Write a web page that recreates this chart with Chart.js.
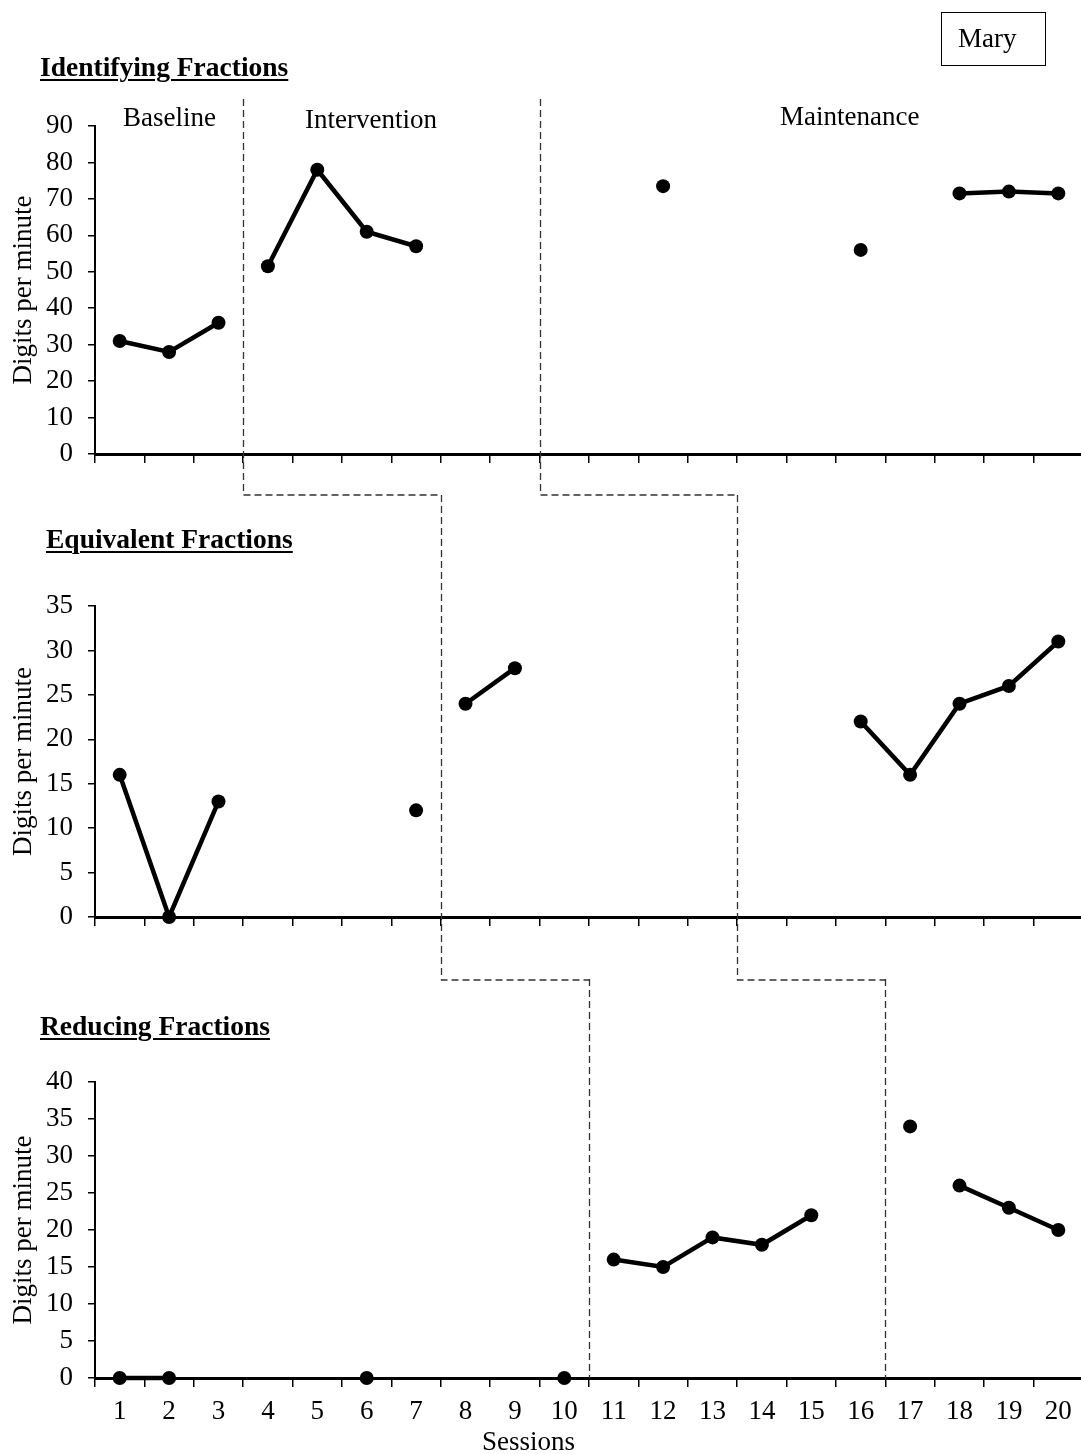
<!DOCTYPE html>
<html>
<head>
<meta charset="utf-8">
<script src="https://cdn.jsdelivr.net/npm/chart.js@4.4.1/dist/chart.umd.min.js"></script>
<style>
  body { margin: 0; background: #fff; }
  #page { position: relative; width: 1081px; height: 1454px; overflow: hidden; background: #fff;
          font-family: "Liberation Serif", "Times New Roman", serif; color: #000; }
  #page canvas { position: absolute; left: 0; }
  .title { position: absolute; font-size: 27.5px; line-height: 1; font-weight: bold; white-space: nowrap;
           text-decoration: underline; text-decoration-thickness: 2px; text-underline-offset: 3px; }
  .lbl { position: absolute; font-size: 27px; line-height: 1; white-space: nowrap; }
  #mary { position: absolute; left: 941px; top: 12px; width: 105px; height: 54px; box-sizing: border-box;
          border: 1.5px solid #000; }
</style>
</head>
<body>
<div id="page">
  <canvas id="identChart" width="1090" height="500" style="top:0px"></canvas>
  <canvas id="equivChart" width="1090" height="490" style="top:495px"></canvas>
  <canvas id="reduceChart" width="1090" height="475" style="top:979px"></canvas>

  <div class="title" style="left:40px; top:53px">Identifying Fractions</div>
  <div class="title" style="left:46px; top:525px">Equivalent Fractions</div>
  <div class="title" style="left:40px; top:1012px">Reducing Fractions</div>
  <div class="lbl" style="left:123px; top:104px">Baseline</div>
  <div class="lbl" style="left:305px; top:106px">Intervention</div>
  <div class="lbl" style="left:780px; top:103px">Maintenance</div>
  <div id="mary"></div>
  <div class="lbl" style="left:958px; top:25px">Mary</div>
  <div class="lbl" style="left:482px; top:1428px">Sessions</div>
</div>
<script>
const sessions = ["1", "2", "3", "4", "5", "6", "7", "8", "9", "10",
                  "11", "12", "13", "14", "15", "16", "17", "18", "19", "20"];

// digits per minute, one entry per session (null = not probed)
const identifyingValues = [31, 28, 36, 51.5, 78, 61, 57, null, null, null,
                           null, 73.5, null, null, null, 56, null, 71.5, 72, 71.5];
const equivalentValues = [16, 0, 13, null, null, null, 12, 24, 28, null,
                          null, null, null, null, null, 22, 16, 24, 26, 31];
const reducingValues = [0, 0, null, null, null, 0, null, null, null, 0,
                        16, 15, 19, 18, 22, null, 34, 26, 23, 20];

// phase changes fall between sessions
const identifyingPhaseChanges = [3.5, 9.5];
const equivalentPhaseChanges = [7.5, 13.5];
const reducingPhaseChanges = [10.5, 16.5];

// sessions whose point is not joined to the next one
const identifyingUnjoined = [];
const equivalentUnjoined = [];
const reducingUnjoined = [17];

Chart.defaults.font.family = "'Liberation Serif', 'Times New Roman', serif";
Chart.defaults.font.size = 27;
Chart.defaults.color = "#000";

const phaseLines = {
  id: "phaseLines",
  beforeDatasetsDraw(chart, args, opts) {
    const { ctx, chartArea } = chart;
    const xs = chart.scales.x;
    const px = (s) => Math.round(xs.getPixelForValue(s - 1)) + 0.5;
    ctx.save();
    ctx.strokeStyle = "#333";
    ctx.lineWidth = 1.3;
    ctx.setLineDash([7, 4]);
    opts.changes.forEach((s, i) => {
      const bottom = opts.lineBottom !== undefined ? opts.lineBottom : chartArea.bottom;
      ctx.beginPath();
      ctx.moveTo(px(s), opts.lineTop);
      ctx.lineTo(px(s), bottom);
      if (opts.next) ctx.lineTo(px(opts.next[i]), bottom);
      ctx.stroke();
    });
    ctx.restore();
  },
};

function splitPhases(values, changes) {
  const edges = [-Infinity, ...changes, Infinity];
  const out = [];
  for (let p = 0; p < edges.length - 1; p++) {
    out.push(values.map((v, i) => (i + 1 > edges[p] && i + 1 < edges[p + 1] ? v : null)));
  }
  return out;
}

function render(id, values, changes, unjoined, o) {
  const el = document.getElementById(id);
  new Chart(el.getContext("2d"), {
    type: "line",
    data: {
      labels: sessions,
      datasets: splitPhases(values, changes).map((d) => ({
        data: d,
        borderColor: "#000",
        borderWidth: 4.5,
        pointRadius: 7,
        pointBackgroundColor: "#000",
        pointBorderWidth: 0,
        tension: 0,
        spanGaps: false,
        clip: false,
        segment: {
          borderColor: (c) => (unjoined.includes(c.p0DataIndex + 1) ? "rgba(0,0,0,0)" : "#000"),
        },
      })),
    },
    options: {
      responsive: false,
      animation: false,
      events: [],
      layout: { padding: { top: o.top, right: 5, left: 0, bottom: 0 } },
      plugins: {
        legend: { display: false },
        tooltip: { enabled: false },
        phaseLines: { changes, next: o.next, lineTop: o.lineTop, lineBottom: o.lineBottom },
      },
      scales: {
        x: {
          type: "category",
          offset: true,
          grid: { offset: true, drawOnChartArea: false, drawTicks: true, tickLength: 9, color: "#000", lineWidth: 1.5 },
          border: { color: "#000", width: 3 },
          ticks: { display: o.showX, padding: 9, maxRotation: 0, autoSkip: false, font: { size: 27 } },
          afterFit: (s) => { s.height = o.xHeight; },
        },
        y: {
          min: 0,
          max: o.yMax,
          grid: { drawOnChartArea: false, tickLength: 7, color: "#000", lineWidth: 1.5 },
          border: { color: "#000", width: 2 },
          ticks: { stepSize: o.step, padding: 15, font: { size: 27 } },
          title: { display: true, text: "Digits per minute", font: { size: 27 }, padding: { top: 8, bottom: 0 } },
          afterFit: (s) => { s.width = 95; },
        },
      },
    },
    plugins: [phaseLines],
  });
}

render("identChart", identifyingValues, identifyingPhaseChanges, identifyingUnjoined, {
  top: 126, xHeight: 500 - 454, yMax: 90, step: 10, showX: false,
  lineTop: 99, lineBottom: 495, next: equivalentPhaseChanges,
});
render("equivChart", equivalentValues, equivalentPhaseChanges, equivalentUnjoined, {
  top: 606 - 495, xHeight: 490 - (917 - 495), yMax: 35, step: 5, showX: false,
  lineTop: 0, lineBottom: 980 - 495, next: reducingPhaseChanges,
});
render("reduceChart", reducingValues, reducingPhaseChanges, reducingUnjoined, {
  top: 1082 - 979, xHeight: 475 - (1378 - 979), yMax: 40, step: 5, showX: true,
  lineTop: 0,
});
</script>
</body>
</html>
